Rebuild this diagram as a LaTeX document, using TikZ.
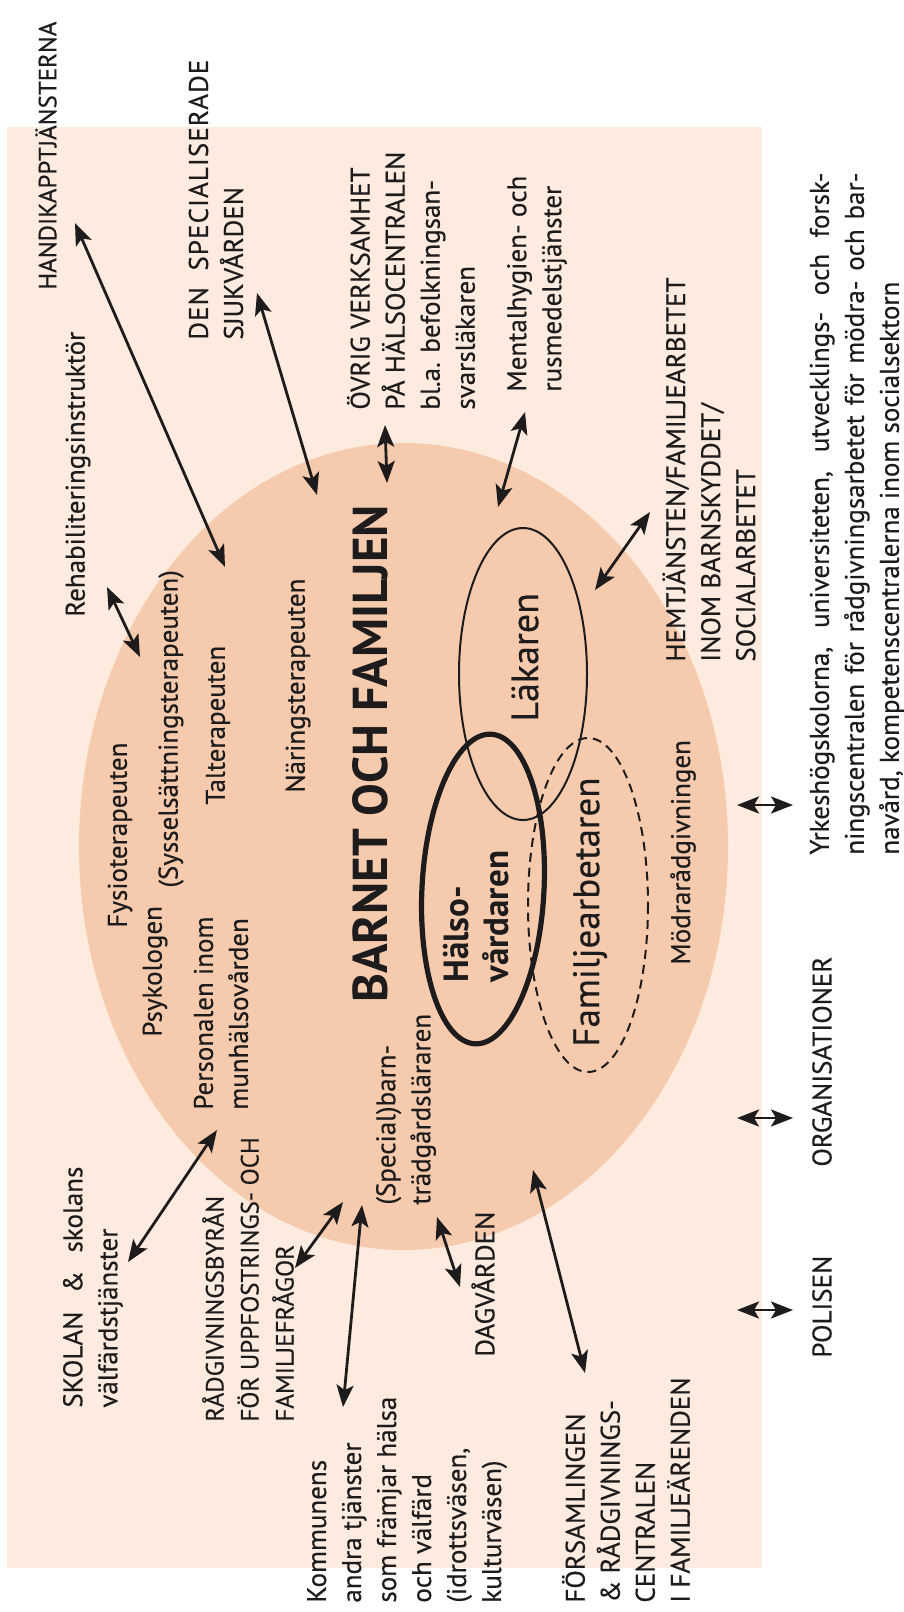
\documentclass[tikz,border=0pt]{standalone}
\usepackage{fontspec}
\setmainfont{PT Sans}[UprightFeatures={FakeBold=0.35}]
\usetikzlibrary{arrows.meta}

\definecolor{boxfill}{RGB}{253,235,223}
\definecolor{familyfill}{RGB}{246,203,173}
\definecolor{ink}{RGB}{30,27,28}

\begin{document}
\begin{tikzpicture}[
    x=0.5pt, y=-0.5pt,
    >={Stealth[length=11pt, width=8.5pt, inset=2.5pt]},
    every edge/.style={draw=ink, <->, line width=1.4pt},
    lbl/.style={rotate=90, anchor=west, inner sep=0pt, align=left, text=ink,
      font=\fontsize{13.5}{17.5}\selectfont},
    tight/.style={lbl, font=\fontsize{12.5}{17.5}\selectfont},
    role/.style={lbl, font=\fontsize{19}{22}\selectfont},
    member/.style={draw=ink, line width=1pt}
  ]
  \useasboundingbox (0,0) rectangle (904,1612);

  % background and the family
  \fill[boxfill] (7,127) rectangle (762,1568);
  \fill[familyfill] (403.5,846.5) ellipse [x radius=324.5, y radius=403.5];
  \draw[member] (523,674) ellipse [x radius=64, y radius=146];
  \draw[member, dashed, dash pattern=on 4.5pt off 3pt] (588,905) ellipse [x radius=60, y radius=167];
  \draw[member, line width=2.6pt, rotate around={-3:(483,889)}] (483,889) ellipse [x radius=61, y radius=155];

  % inside the family
  \node[lbl, font=\bfseries\fontsize{24.5}{28}\selectfont] (barnet) at (370,1003) {BARNET OCH FAMILJEN};
  \node[role] (lakaren) at (525,722) {Läkaren};
  \node[role, font=\bfseries\fontsize{17.5}{20}\selectfont] (halso) at (476,983) {Hälso-\\vårdaren};
  \node[role, font=\fontsize{18.5}{22}\selectfont] (famarb) at (590,1047) {Familjearbetaren};
  \node[lbl] (modra) at (683,965) {Mödrarådgivningen};
  \node[lbl] (syssel) at (171,888) {(Sysselsättningsterapeuten)};
  \node[lbl] (tal) at (218,805) {Talterapeuten};
  \node[lbl] (naring) at (298,793) {Näringsterapeuten};
  \node[lbl] (fysio) at (120,928) {Fysioterapeuten};
  \node[lbl] (psyk) at (155,1037) {Psykologen};
  \node[lbl] (munhalsa) at (221,1110) {Personalen inom\\munhälsovården};
  \node[lbl] (barntradgard) at (406,1205) {(Special)barn-\\trädgårdsläraren};

  % around the family
  \node[tight] (handikapp) at (46,290) {HANDIKAPPTJÄNSTERNA};
  \node[lbl] (sjukvard) at (216,340) {\makebox[140pt][s]{\addfontfeature{LetterSpace=4}DEN SPECIALISERADE}\\SJUKVÅRDEN};
  \node[lbl] (ovrig) at (411,410) {ÖVRIG VERKSAMHET\\PÅ HÄLSOCENTRALEN\\bl.a. befolkningsan-\\svarsläkaren};
  \node[lbl] (mental) at (537,392) {Mentalhygien- och\\rusmedelstjänster};
  \node[lbl] (hemtjanst) at (709,662) {HEMTJÄNSTEN/FAMILJEARBETET\\INOM BARNSKYDDET/\\SOCIALARBETET};
  \node[lbl] (rehab) at (78,617) {Rehabiliteringsinstruktör};
  \node[lbl] (skolan) at (93,1408) {\makebox[120.5pt][s]{SKOLAN \& skolans}\\välfärdstjänster};
  \node[tight] (radgivning) at (248,1422) {RÅDGIVNINGSBYRÅN\\FÖR UPPFOSTRINGS- OCH\\FAMILJEFRÅGOR};
  \node[lbl] (kommunen) at (407,1603) {Kommunens\\andra tjänster\\som främjar hälsa\\och välfärd\\(idrottsväsen,\\kulturväsen)};
  \node[lbl] (dagvard) at (483,1357) {DAGVÅRDEN};
  \node[lbl] (forsamling) at (626,1603) {FÖRSAMLINGEN\\\& RÅDGIVNINGS-\\CENTRALEN\\I FAMILJEÄRENDEN};
  \node[lbl] (polisen) at (822,1358) {POLISEN};
  \node[lbl] (org) at (822,1167) {ORGANISATIONER};
  \node[lbl] (yrkes) at (857,855) {\makebox[341pt][s]{Yrkeshögskolorna, universiteten, utvecklings- och forsk-}\\
    \makebox[341pt][s]{ningscentralen för rådgivningsarbetet för mödra- och bar-}\\
    navård, kompetenscentralerna inom socialsektorn};

  % arrow ends
  \coordinate (handikapp-o) at (75,223);   \coordinate (handikapp-i) at (225,567);
  \coordinate (sjukvard-o) at (257,293);   \coordinate (sjukvard-i) at (317,495);
  \coordinate (ovrig-o) at (385,425);      \coordinate (ovrig-i) at (387,483);
  \coordinate (mental-o) at (525,412);     \coordinate (mental-i) at (498,507);
  \coordinate (hemtjanst-o) at (650,512);  \coordinate (hemtjanst-i) at (595,590);
  \coordinate (rehab-o) at (107,587);      \coordinate (rehab-i) at (140,657);
  \coordinate (skolan-o) at (128,1262);    \coordinate (skolan-i) at (217,1130);
  \coordinate (radgivning-o) at (295,1268);\coordinate (radgivning-i) at (343,1202);
  \coordinate (kommunen-o) at (343,1407);  \coordinate (kommunen-i) at (362,1205);
  \coordinate (dagvard-o) at (460,1287);   \coordinate (dagvard-i) at (437,1217);
  \coordinate (forsamling-o) at (585,1373);\coordinate (forsamling-i) at (533,1170);
  \coordinate (yrkes-o) at (793,805);      \coordinate (yrkes-i) at (737,805);
  \coordinate (org-o) at (793,1118);       \coordinate (org-i) at (737,1118);
  \coordinate (polisen-o) at (793,1310);   \coordinate (polisen-i) at (737,1310);

  \path
    (handikapp-o) edge (handikapp-i)
    (sjukvard-o) edge (sjukvard-i)
    (ovrig-o) edge (ovrig-i)
    (mental-o) edge (mental-i)
    (hemtjanst-o) edge (hemtjanst-i)
    (rehab-o) edge (rehab-i)
    (skolan-o) edge (skolan-i)
    (radgivning-o) edge (radgivning-i)
    (kommunen-o) edge (kommunen-i)
    (dagvard-o) edge (dagvard-i)
    (forsamling-o) edge (forsamling-i)
    (yrkes-o) edge (yrkes-i)
    (org-o) edge (org-i)
    (polisen-o) edge (polisen-i)
  ;
\end{tikzpicture}
\end{document}
